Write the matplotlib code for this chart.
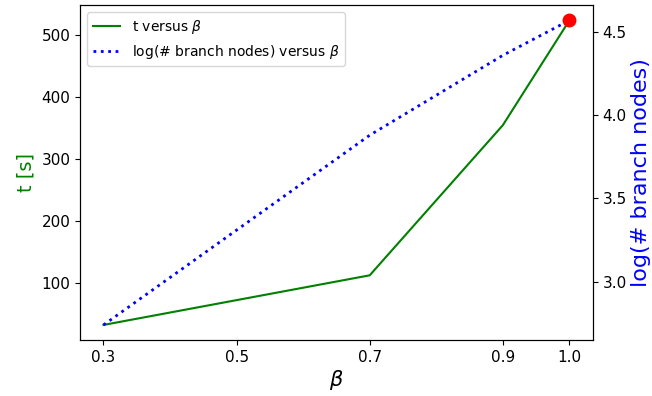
import matplotlib
matplotlib.use("Agg")
import matplotlib.pyplot as plt
from matplotlib.ticker import MultipleLocator

beta = [0.3, 0.7, 0.9, 1.0]
t_sec = [33, 113, 355, 524]
log_nodes = [2.74, 3.88, 4.36, 4.57]
xticks = [0.3, 0.5, 0.7, 0.9, 1.0]

fig, ax1 = plt.subplots(figsize=(6.52, 3.96), dpi=100)
fig.subplots_adjust(left=0.123, right=0.909, top=0.987, bottom=0.141)

l1, = ax1.plot(beta, t_sec, color="green", label=r"t versus $\beta$")
ax1.set_xlabel(r"$\beta$", fontsize=15, labelpad=2)
ax1.set_ylabel("t [s]", color="green", fontsize=14)
ax1.set_xticks(xticks)
ax1.set_xticklabels(["0.3", "0.5", "0.7", "0.9", "1.0"])
ax1.tick_params(labelsize=11)

ax2 = ax1.twinx()
l2, = ax2.plot(beta, log_nodes, color="blue", linestyle=":", linewidth=2,
               label=r"log(# branch nodes) versus $\beta$")
ax2.plot(beta[-1], log_nodes[-1], "o", color="red", markersize=9)
ax2.set_ylabel("log(# branch nodes)", color="blue", fontsize=16, labelpad=3)
ax2.yaxis.set_major_locator(MultipleLocator(0.5))
ax2.tick_params(labelsize=11)

ax1.legend(handles=[l1, l2], loc="upper left", fontsize=10)

fig.savefig("out.png")
